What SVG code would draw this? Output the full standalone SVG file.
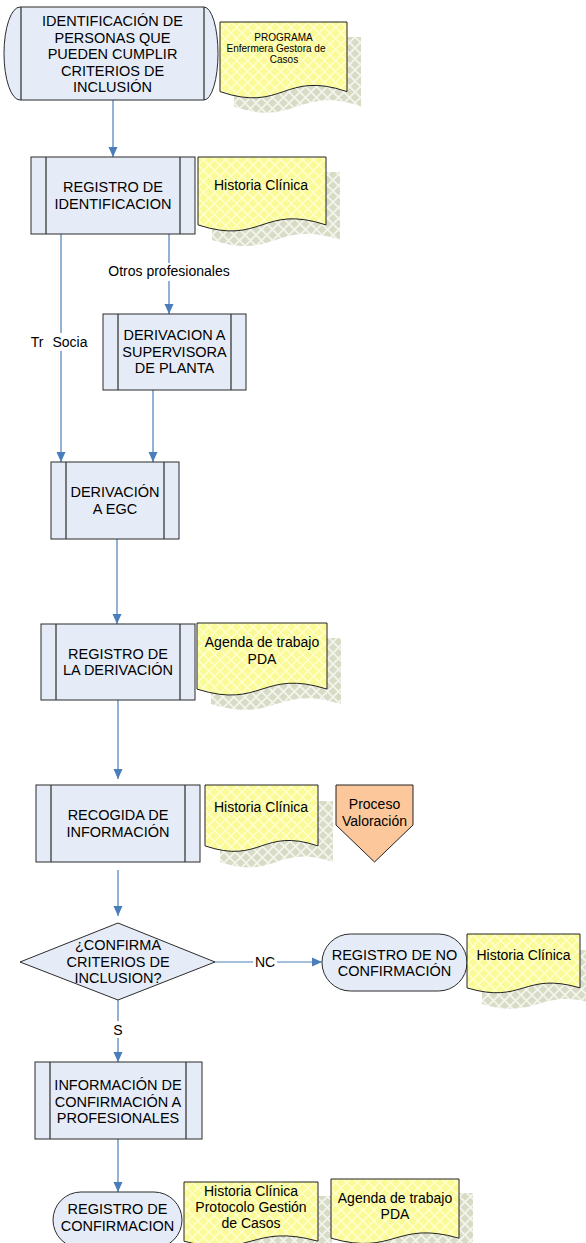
<svg xmlns="http://www.w3.org/2000/svg" width="586" height="1243" viewBox="0 0 586 1243">
<defs>
<pattern id="pshadow" width="11" height="11" patternUnits="userSpaceOnUse"><rect width="11" height="11" fill="#D8DCC7"/><path d="M0 0 L11 11 M11 0 L0 11" stroke="#F4F6EE" stroke-width="1.6"/></pattern>
<pattern id="pdoc" width="11" height="11" patternUnits="userSpaceOnUse"><rect width="11" height="11" fill="#FAFA96"/><path d="M0 0 L11 11 M11 0 L0 11" stroke="#FFFFD0" stroke-width="1.5"/></pattern>
<marker id="ah" markerWidth="10" markerHeight="10" refX="10" refY="5" orient="auto" markerUnits="userSpaceOnUse"><path d="M0 0.5 L10 5 L0 9.5 Z" fill="#4A7EBB"/></marker>
<style>
.box{fill:#E6ECF7;stroke:#2B2B2B;stroke-width:1}
.inner{stroke:#3A3A3A;stroke-width:1.3}
.doc{fill:url(#pdoc);stroke:#222;stroke-width:1}
.shadow{fill:url(#pshadow);stroke:none}
.t{font-family:"Liberation Sans",Arial,sans-serif;font-size:14.5px;text-anchor:middle;fill:#000}
.td{font-family:"Liberation Sans",Arial,sans-serif;font-size:14px;text-anchor:middle;fill:#000}
.ts{font-family:"Liberation Sans",Arial,sans-serif;font-size:10px;text-anchor:middle;fill:#000}
.con{fill:none;stroke:#4A7EBB;stroke-width:1.2}
.lbg{fill:#FFFFFF}
</style>
</defs>
<rect width="586" height="1243" fill="#FFFFFF"/>

<g id="connectors">
<path class="con" d="M113 100 V157" marker-end="url(#ah)"/>
<path class="con" d="M61 234 V462" marker-end="url(#ah)"/>
<path class="con" d="M169 234 V314" marker-end="url(#ah)"/>
<path class="con" d="M153 390 V462" marker-end="url(#ah)"/>
<path class="con" d="M117 539 V624" marker-end="url(#ah)"/>
<path class="con" d="M118 700 V779" marker-end="url(#ah)"/>
<path class="con" d="M118 870 V916" marker-end="url(#ah)"/>
<path class="con" d="M215 962 H322" marker-end="url(#ah)"/>
<path class="con" d="M118 1000 V1062" marker-end="url(#ah)"/>
<path class="con" d="M118 1139 V1192" marker-end="url(#ah)"/>
<rect class="lbg" x="105" y="263" width="128" height="18"/>
<text class="td" x="169" y="276">Otros profesionales</text>
<rect class="lbg" x="50" y="333" width="40" height="18"/>
<text class="td" x="37" y="347">Tr<tspan x="70">Socia</tspan></text>
<rect class="lbg" x="253" y="954" width="24" height="17"/>
<text class="td" x="265" y="967">NC</text>
<rect class="lbg" x="110" y="1021" width="16" height="17"/>
<text class="td" x="118" y="1035">S</text>
</g>

<g id="n-identificacion-personas">
<path class="box" d="M20 7 H204 A14 46.5 0 0 1 204 100 H20 A16 46.5 0 0 1 20 7 Z"/>
<line class="inner" x1="21" y1="7" x2="21" y2="100"/>
<line class="inner" x1="204" y1="7" x2="204" y2="100"/>
<text class="t"><tspan x="112.5" y="26">IDENTIFICACIÓN DE</tspan><tspan x="112.5" y="42.5">PERSONAS QUE</tspan><tspan x="112.5" y="59">PUEDEN CUMPLIR</tspan><tspan x="112.5" y="75.5">CRITERIOS DE</tspan><tspan x="112.5" y="92">INCLUSIÓN</tspan></text>
</g>

<g id="n-doc-programa">
<path class="shadow" transform="translate(14 15)" d="M220 22 H347 V91.6 C283.5 70 283.5 113.2 220 91.6 Z"/>
<path class="doc" d="M220 22 H347 V91.6 C283.5 70 283.5 113.2 220 91.6 Z"/>
<text class="ts"><tspan x="283.5" y="41">PROGRAMA</tspan><tspan x="276" y="52">Enfermera Gestora de</tspan><tspan x="284" y="63">Casos</tspan></text>
</g>

<g id="n-registro-identificacion">
<rect class="box" x="31" y="157" width="164" height="77"/>
<line class="inner" x1="46" y1="157" x2="46" y2="234"/>
<line class="inner" x1="180" y1="157" x2="180" y2="234"/>
<text class="t"><tspan x="113" y="192">REGISTRO DE</tspan><tspan x="113" y="209">IDENTIFICACION</tspan></text>
</g>

<g id="n-doc-historia-1">
<path class="shadow" transform="translate(14 15)" d="M198 157 H326 V224.9 C262 203.8 262 245.9 198 224.9 Z"/>
<path class="doc" d="M198 157 H326 V224.9 C262 203.8 262 245.9 198 224.9 Z"/>
<text class="td" x="261" y="190">Historia Clínica</text>
</g>

<g id="n-derivacion-supervisora">
<rect class="box" x="103" y="314" width="143" height="76"/>
<line class="inner" x1="118" y1="314" x2="118" y2="390"/>
<line class="inner" x1="231" y1="314" x2="231" y2="390"/>
<text class="t"><tspan x="174.5" y="340">DERIVACION A</tspan><tspan x="174.5" y="356.5">SUPERVISORA</tspan><tspan x="174.5" y="373">DE PLANTA</tspan></text>
</g>

<g id="n-derivacion-egc">
<rect class="box" x="51" y="462" width="128" height="77"/>
<line class="inner" x1="66" y1="462" x2="66" y2="539"/>
<line class="inner" x1="164" y1="462" x2="164" y2="539"/>
<text class="t"><tspan x="115" y="497">DERIVACIÓN</tspan><tspan x="115" y="513.5">A EGC</tspan></text>
</g>

<g id="n-registro-derivacion">
<rect class="box" x="41" y="624" width="154" height="76"/>
<line class="inner" x1="56" y1="624" x2="56" y2="700"/>
<line class="inner" x1="180" y1="624" x2="180" y2="700"/>
<text class="t"><tspan x="118" y="658.5">REGISTRO DE</tspan><tspan x="118" y="675">LA DERIVACIÓN</tspan></text>
</g>

<g id="n-doc-agenda-1">
<path class="shadow" transform="translate(14 15)" d="M197 623 H327 V689.1 C262 668.6 262 709.6 197 689.1 Z"/>
<path class="doc" d="M197 623 H327 V689.1 C262 668.6 262 709.6 197 689.1 Z"/>
<text class="td"><tspan x="262" y="647">Agenda de trabajo</tspan><tspan x="262" y="664">PDA</tspan></text>
</g>

<g id="n-recogida-informacion">
<rect class="box" x="36" y="785" width="164" height="77"/>
<line class="inner" x1="51" y1="785" x2="51" y2="862"/>
<line class="inner" x1="185" y1="785" x2="185" y2="862"/>
<text class="t"><tspan x="118" y="820">RECOGIDA DE</tspan><tspan x="118" y="837">INFORMACIÓN</tspan></text>
</g>

<g id="n-doc-historia-2">
<path class="shadow" transform="translate(15 16)" d="M205 785 H318 V845.9 C261.5 827 261.5 864.8 205 845.9 Z"/>
<path class="doc" d="M205 785 H318 V845.9 C261.5 827 261.5 864.8 205 845.9 Z"/>
<text class="td" x="261" y="812">Historia Clínica</text>
</g>

<g id="n-proceso-valoracion">
<path d="M336 785 H413 V825 L374.5 862 L336 825 Z" fill="#FCC89B" stroke="#222" stroke-width="1"/>
<text class="td"><tspan x="374.5" y="809">Proceso</tspan><tspan x="374.5" y="826">Valoración</tspan></text>
</g>

<g id="n-confirma-criterios">
<path class="box" d="M118 923 L215 962 L118 1000 L20 962 Z"/>
<text class="t"><tspan x="118" y="950">¿CONFIRMA</tspan><tspan x="118" y="966.5">CRITERIOS DE</tspan><tspan x="118" y="983">INCLUSION?</tspan></text>
</g>

<g id="n-registro-no-confirmacion">
<rect class="box" x="322" y="934" width="145" height="57" rx="28.5" ry="28.5"/>
<text class="t"><tspan x="394.5" y="959.5">REGISTRO DE NO</tspan><tspan x="394.5" y="976">CONFIRMACIÓN</tspan></text>
</g>

<g id="n-doc-historia-3">
<path class="shadow" transform="translate(15 16)" d="M467 934 H580 V987.9 C523.5 971.2 523.5 1004.7 467 987.9 Z"/>
<path class="doc" d="M467 934 H580 V987.9 C523.5 971.2 523.5 1004.7 467 987.9 Z"/>
<text class="td" x="523.5" y="960">Historia Clínica</text>
</g>

<g id="n-informacion-confirmacion">
<rect class="box" x="35" y="1062" width="167" height="77"/>
<line class="inner" x1="50" y1="1062" x2="50" y2="1139"/>
<line class="inner" x1="186" y1="1062" x2="186" y2="1139"/>
<text class="t"><tspan x="118" y="1090">INFORMACIÓN DE</tspan><tspan x="118" y="1106.5">CONFIRMACIÓN A</tspan><tspan x="118" y="1123">PROFESIONALES</tspan></text>
</g>

<g id="n-registro-confirmacion">
<rect class="box" x="53" y="1192" width="129" height="56" rx="28" ry="28"/>
<text class="t"><tspan x="117.5" y="1214">REGISTRO DE</tspan><tspan x="117.5" y="1231">CONFIRMACION</tspan></text>
</g>

<g id="n-doc-historia-protocolo">
<path class="shadow" transform="translate(14 14)" d="M184 1182 H318 V1241.2 C251 1222.8 251 1259.5 184 1241.2 Z"/>
</g>
<g id="n-doc-agenda-2">
<path class="shadow" transform="translate(14 14)" d="M331 1179 H459 V1238.2 C395 1219.8 395 1256.5 331 1238.2 Z"/>
<path class="doc" d="M331 1179 H459 V1238.2 C395 1219.8 395 1256.5 331 1238.2 Z"/>
<text class="td"><tspan x="395" y="1203">Agenda de trabajo</tspan><tspan x="395" y="1219">PDA</tspan></text>
</g>
<g id="n-doc-historia-protocolo-front">
<path class="doc" d="M184 1182 H318 V1241.2 C251 1222.8 251 1259.5 184 1241.2 Z"/>
<text class="td"><tspan x="251" y="1196">Historia Clínica</tspan><tspan x="251" y="1212">Protocolo Gestión</tspan><tspan x="251" y="1228">de Casos</tspan></text>
</g>
</svg>
